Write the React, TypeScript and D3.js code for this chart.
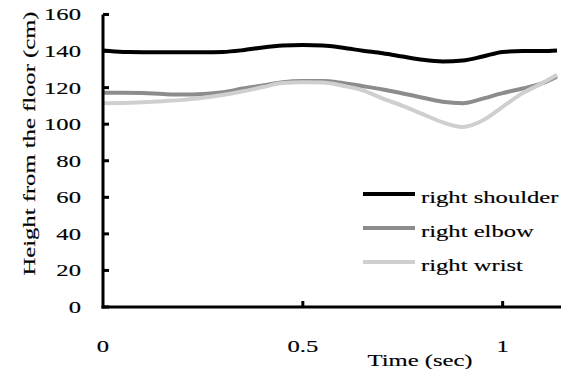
import React from "react";
import * as d3 from "d3";

const times = [0, 0.05, 0.1, 0.15, 0.2, 0.25, 0.3, 0.35, 0.4, 0.45, 0.5, 0.55, 0.6, 0.65, 0.7, 0.75, 0.8, 0.85, 0.9, 0.95, 1.0, 1.05, 1.1, 1.136];
const shoulder = [140.3, 139.5, 139.4, 139.3, 139.3, 139.3, 139.5, 140.5, 142, 143, 143.3, 143, 141.8, 140.2, 138.8, 137, 135.2, 134.3, 134.8, 137, 139.5, 140, 140, 140.3];
const elbow = [117.2, 117.2, 117, 116.5, 116.2, 116.5, 117.5, 119.5, 121.2, 123, 123.6, 123.6, 122.5, 120.8, 119, 116.8, 114.5, 112.3, 111.5, 114, 117, 119.5, 122.5, 126];
const wrist = [111.4, 111.6, 112, 112.6, 113.3, 114.5, 116, 118, 120.3, 122.5, 122.9, 122.8, 121, 118.5, 114, 110, 105.5, 101, 98.5, 102, 109.5, 117, 122.5, 127];

const seriesNames = ["right shoulder", "right elbow", "right wrist"];
const seriesValues = [shoulder, elbow, wrist];
const seriesColors = ["#000000", "#8c8c8c", "#cfcfcf"];

const yTicks = [0, 20, 40, 60, 80, 100, 120, 140, 160];
const xTicks = [0, 0.5, 1];
const xTickLabels = ["0", "0.5", "1"];

const FONT = "'Liberation Serif', serif";
const SX = 1.45;

const textStyle = { fill: "#000", stroke: "#000", strokeWidth: 0.15 };

export default function App() {
  const x = d3.scaleLinear().domain([0, 1.15]).range([103, 562.6]);
  const y = d3.scaleLinear().domain([0, 160]).range([307, 14.5]);

  const line = d3
    .line<number>()
    .x((_, i) => x(times[i]))
    .y((v) => y(v))
    .curve(d3.curveMonotoneX);

  const legendY = [194, 228, 262];

  return (
    <svg
      width={561}
      height={369}
      style={{ position: "absolute", left: 0, top: 0, background: "#fff" }}
      fontFamily={FONT}
    >
      {seriesValues.map((vals, i) => (
        <path key={"s" + i} d={line(vals) || ""} fill="none" stroke={seriesColors[i]} strokeWidth={4} strokeLinejoin="round" />
      ))}
      <line x1={x(0)} x2={x(0)} y1={y(160)} y2={y(0) + 1.5} stroke="#000" strokeWidth={3} />
      <line x1={x(0) - 1.5} x2={561} y1={y(0)} y2={y(0)} stroke="#000" strokeWidth={3} />
      {yTicks.map((t) => (
        <g key={"yt" + t}>
          <line x1={x(0)} x2={x(0) + 6} y1={y(t)} y2={y(t)} stroke="#000" strokeWidth={3} />
          <g transform={`translate(81,${y(t)}) scale(${SX},1)`}>
            <text dy="0.35em" textAnchor="end" fontSize={17} {...textStyle}>
              {t}
            </text>
          </g>
        </g>
      ))}
      {xTicks.map((t, i) => (
        <g key={"xt" + t}>
          {t > 0 && <line x1={x(t)} x2={x(t)} y1={y(0)} y2={y(0) - 6} stroke="#000" strokeWidth={3} />}
          <g transform={`translate(${x(t)},352) scale(${SX},1)`}>
            <text textAnchor="middle" fontSize={17} {...textStyle}>
              {xTickLabels[i]}
            </text>
          </g>
        </g>
      ))}
      <g transform={`translate(420,366) scale(${SX},1)`}>
        <text textAnchor="middle" fontSize={17} {...textStyle}>
          Time (sec)
        </text>
      </g>
      <g transform={`translate(29,143.5) rotate(-90) scale(${SX},1)`}>
        <text textAnchor="middle" fontSize={17} dy="0.35em" {...textStyle}>
          Height from the floor (cm)
        </text>
      </g>
      {seriesNames.map((n, i) => (
        <g key={"lg" + i}>
          <line x1={363} x2={415} y1={legendY[i]} y2={legendY[i]} stroke={seriesColors[i]} strokeWidth={4} />
          <g transform={`translate(421,${legendY[i] + 9}) scale(${SX},1)`}>
            <text fontSize={17} {...textStyle}>
              {n}
            </text>
          </g>
        </g>
      ))}
    </svg>
  );
}
